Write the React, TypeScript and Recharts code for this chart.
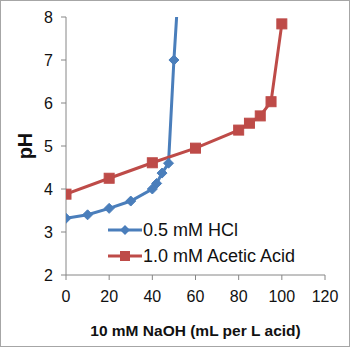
import { LineChart, Line, XAxis, YAxis } from 'recharts';

const hclVolume = [0, 10, 20, 30, 40, 42, 44.5, 47.5, 50, 52];
const hclPH = [3.32, 3.4, 3.55, 3.72, 4.0, 4.13, 4.37, 4.6, 7.0, 8.6];
const aceticVolume = [0, 20, 40, 60, 80, 85, 90, 95, 100];
const aceticPH = [3.88, 4.25, 4.61, 4.95, 5.37, 5.53, 5.7, 6.03, 7.84];
const xTicks = [0, 20, 40, 60, 80, 100, 120];
const yTicks = [2, 3, 4, 5, 6, 7, 8];

const BLUE = '#4A7EBB';
const RED = '#BE4B48';
const FONT = '"Liberation Sans", Arial, sans-serif';

const hclData = hclVolume.map((v, i) => ({ v, ph: hclPH[i] }));
const aceticData = aceticVolume.map((v, i) => ({ v, ph: aceticPH[i] }));

const axisTick = { fontSize: 16, fill: '#111', fontFamily: FONT };

const Diamond = (props: any) => {
  const { cx, cy, index } = props;
  if (cy == null || cy < 17) return <g key={index} />;
  const r = 5;
  return (
    <path
      key={index}
      d={`M${cx},${cy - r} L${cx + r},${cy} L${cx},${cy + r} L${cx - r},${cy} Z`}
      fill={BLUE}
      stroke={BLUE}
    />
  );
};

const Square = (props: any) => {
  const { cx, cy, index } = props;
  const s = 5;
  return <rect key={index} x={cx - s} y={cy - s} width={s * 2} height={s * 2} fill={RED} stroke={RED} />;
};

const legendRows = [
  { name: '0.5 mM HCl', color: BLUE, shape: 'd' },
  { name: '1.0 mM Acetic Acid', color: RED, shape: 's' },
];

const LegendBox = () => (
  <div style={{ position: 'absolute', left: 107, top: 216, fontFamily: FONT, fontSize: 18, color: '#111' }}>
    {legendRows.map((r) => (
      <div key={r.name} style={{ display: 'flex', alignItems: 'center', height: 26 }}>
        <svg width={34} height={14}>
          <line x1={0} y1={7} x2={34} y2={7} stroke={r.color} strokeWidth={3} />
          {r.shape === 'd' ? (
            <path d="M17,2 L22,7 L17,12 L12,7 Z" fill={r.color} />
          ) : (
            <rect x={12} y={2} width={10} height={10} fill={r.color} />
          )}
        </svg>
        <span style={{ marginLeft: 1 }}>{r.name}</span>
      </div>
    ))}
  </div>
);

export default function App() {
  return (
    <div
      style={{
        position: 'absolute',
        left: 0,
        top: 0,
        width: 348,
        height: 345,
        border: '1px solid #a6a6a6',
        background: '#fff',
      }}
    >
      <LineChart width={348} height={345} margin={{ top: 16, right: 24, left: 0, bottom: 0 }}>
        <XAxis
          type="number"
          dataKey="v"
          domain={[0, 120]}
          ticks={xTicks}
          tick={axisTick}
          tickLine={{ stroke: '#868686' }}
          axisLine={{ stroke: '#868686' }}
          tickSize={5}
          tickMargin={11}
          height={71}
          allowDataOverflow
          label={{
            value: '10 mM NaOH (mL per L acid)',
            position: 'insideBottom',
            offset: 10,
            style: { fontSize: 15.5, fontWeight: 'bold', fill: '#111', fontFamily: FONT },
          }}
        />
        <YAxis
          type="number"
          domain={[2, 8]}
          ticks={yTicks}
          tick={axisTick}
          tickLine={{ stroke: '#868686' }}
          axisLine={{ stroke: '#868686' }}
          tickSize={5}
          tickMargin={8}
          width={65}
          allowDataOverflow
          label={{
            value: 'pH',
            angle: -90,
            position: 'insideLeft',
            offset: 24,
            style: { fontSize: 20, fontWeight: 'bold', fill: '#111', fontFamily: FONT, textAnchor: 'middle' },
          }}
        />
        <Line
          data={hclData}
          dataKey="ph"
          name="0.5 mM HCl"
          stroke={BLUE}
          strokeWidth={3}
          dot={Diamond}
          activeDot={false}
          isAnimationActive={false}
        />
        <Line
          data={aceticData}
          dataKey="ph"
          name="1.0 mM Acetic Acid"
          stroke={RED}
          strokeWidth={3}
          dot={Square}
          activeDot={false}
          isAnimationActive={false}
        />
      </LineChart>
      <LegendBox />
    </div>
  );
}
